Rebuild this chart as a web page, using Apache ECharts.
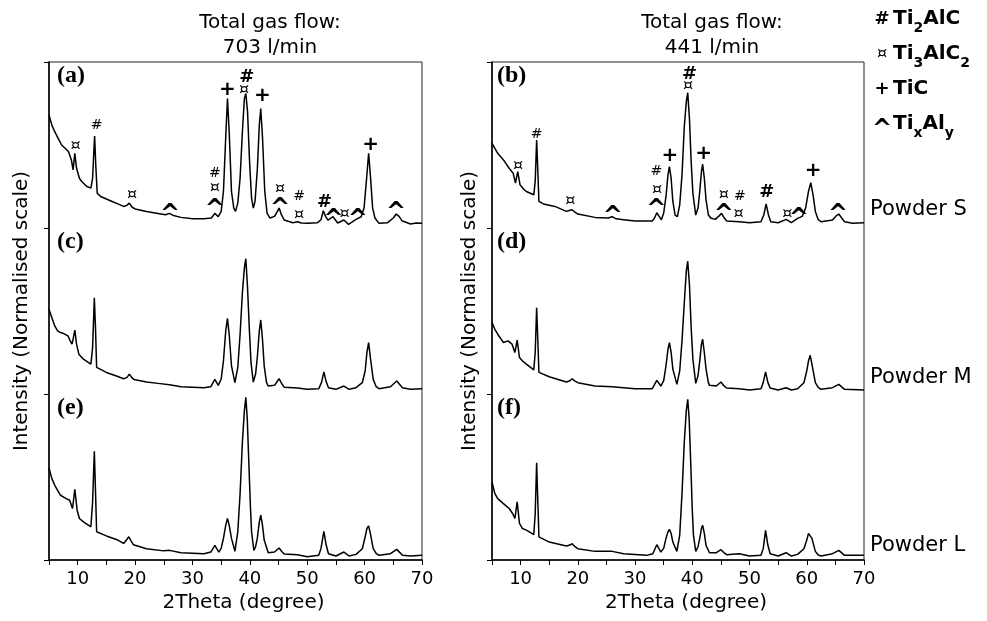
<!DOCTYPE html>
<html><head><meta charset="utf-8">
<script src="https://cdn.jsdelivr.net/npm/echarts@6/dist/echarts.min.js"></script>
<style>html,body{margin:0;padding:0;background:#fff}#c{width:987px;height:621px}</style>
</head><body><div id="c"></div>
<script>
// ---------- data ----------
const xTickLabels = [10, 20, 30, 40, 50, 60, 70];
const panelTitles = ['Total gas flow:\n703 l/min', 'Total gas flow:\n441 l/min'];
const panelLetters = [['(a)', '(c)', '(e)'], ['(b)', '(d)', '(f)']];
const powderNames = ['Powder S', 'Powder M', 'Powder L'];
const legendSymbols = ['#', '¤', '+', '^'];
const legendFormulas = [['Ti', '2', 'AlC'], ['Ti', '3', 'AlC', '2'], ['TiC'], ['Ti', 'x', 'Al', 'y']];
const xAxisTitle = '2Theta (degree)';
const yAxisTitle = 'Intensity (Normalised scale)';

// normalised intensity (0..1 within each stacked band) vs 2theta
const powderS_703 = [[5.0,0.68],[5.5,0.62],[6.0,0.58],[6.6,0.54],[7.2,0.50],[7.8,0.48],[8.4,0.46],[8.9,0.41],[9.2,0.35],[9.5,0.45],[9.8,0.36],[10.3,0.30],[10.7,0.28],[11.6,0.25],[12.3,0.24],[12.6,0.30],[12.8,0.45],[12.95,0.554],[13.15,0.38],[13.4,0.21],[14.0,0.19],[15.0,0.175],[16.0,0.16],[17.0,0.145],[18.0,0.13],[18.5,0.135],[19.0,0.15],[19.5,0.125],[20.0,0.115],[22.0,0.10],[24.0,0.088],[25.3,0.08],[26.0,0.088],[26.7,0.075],[28.0,0.064],[30.0,0.056],[32.0,0.056],[33.3,0.06],[33.9,0.088],[34.5,0.068],[35.0,0.10],[35.4,0.22],[35.8,0.55],[36.1,0.78],[36.4,0.58],[36.8,0.22],[37.2,0.12],[37.5,0.10],[37.9,0.15],[38.3,0.30],[38.7,0.58],[39.05,0.78],[39.3,0.81],[39.6,0.70],[39.95,0.40],[40.3,0.18],[40.6,0.12],[40.9,0.16],[41.3,0.35],[41.65,0.62],[41.9,0.72],[42.2,0.55],[42.6,0.22],[43.0,0.09],[43.5,0.06],[44.3,0.07],[44.8,0.10],[45.1,0.12],[45.5,0.08],[46.0,0.048],[47.5,0.032],[48.3,0.038],[49.0,0.03],[50.0,0.028],[51.8,0.032],[52.4,0.05],[52.8,0.104],[53.2,0.07],[53.6,0.048],[54.5,0.068],[55.3,0.03],[56.4,0.048],[57.2,0.022],[58.5,0.052],[59.4,0.068],[59.9,0.12],[60.3,0.28],[60.7,0.45],[61.0,0.32],[61.4,0.12],[61.8,0.06],[62.5,0.028],[64.0,0.032],[65.0,0.06],[65.5,0.084],[66.0,0.07],[66.5,0.044],[68.0,0.024],[69.0,0.03],[70.0,0.028]];
const powderM_703 = [[5.0,0.51],[5.4,0.47],[6.0,0.41],[6.5,0.38],[7.0,0.37],[7.5,0.365],[7.8,0.37],[8.3,0.35],[8.7,0.32],[9.0,0.30],[9.2,0.33],[9.5,0.385],[9.8,0.30],[10.2,0.24],[11.0,0.21],[12.3,0.18],[12.6,0.28],[12.9,0.58],[13.1,0.40],[13.3,0.16],[15.0,0.13],[17.0,0.105],[18.0,0.092],[18.6,0.10],[19.0,0.12],[19.4,0.10],[19.8,0.088],[22.0,0.072],[24.0,0.064],[26.0,0.056],[28.0,0.044],[32.0,0.038],[33.2,0.044],[33.9,0.088],[34.5,0.052],[35.0,0.09],[35.4,0.20],[35.8,0.38],[36.1,0.455],[36.4,0.36],[36.8,0.17],[37.4,0.068],[37.9,0.16],[38.3,0.36],[38.7,0.61],[39.05,0.76],[39.3,0.815],[39.6,0.64],[39.9,0.40],[40.2,0.19],[40.6,0.072],[41.0,0.12],[41.3,0.22],[41.65,0.38],[41.9,0.446],[42.2,0.33],[42.5,0.17],[42.9,0.07],[43.2,0.048],[44.3,0.052],[45.1,0.092],[45.6,0.06],[46.0,0.04],[48.3,0.036],[50.0,0.028],[52.0,0.032],[52.5,0.07],[52.9,0.133],[53.3,0.075],[53.7,0.038],[55.0,0.028],[56.4,0.048],[57.3,0.028],[58.5,0.038],[59.6,0.068],[60.1,0.14],[60.4,0.25],[60.7,0.31],[61.0,0.22],[61.5,0.088],[62.0,0.045],[62.5,0.032],[64.5,0.044],[65.6,0.078],[66.6,0.038],[68.0,0.028],[70.0,0.032]];
const powderL_703 = [[5.0,0.554],[5.5,0.49],[6.0,0.45],[7.0,0.39],[8.0,0.37],[8.6,0.36],[9.1,0.31],[9.5,0.426],[9.9,0.30],[10.3,0.25],[11.0,0.23],[12.3,0.20],[12.6,0.35],[12.9,0.655],[13.1,0.42],[13.3,0.17],[15.0,0.145],[17.0,0.12],[18.0,0.10],[18.5,0.12],[18.9,0.14],[19.3,0.115],[19.7,0.092],[22.0,0.068],[25.0,0.055],[26.0,0.058],[28.0,0.044],[32.0,0.038],[33.2,0.048],[33.9,0.088],[34.6,0.048],[35.0,0.07],[35.4,0.13],[35.8,0.21],[36.1,0.25],[36.4,0.21],[36.8,0.13],[37.4,0.052],[37.9,0.17],[38.3,0.40],[38.7,0.71],[39.05,0.90],[39.3,0.98],[39.55,0.85],[39.8,0.61],[40.1,0.32],[40.3,0.17],[40.7,0.058],[41.0,0.08],[41.3,0.13],[41.65,0.23],[41.9,0.27],[42.2,0.21],[42.5,0.12],[43.2,0.044],[44.3,0.048],[45.1,0.072],[45.6,0.05],[46.0,0.036],[48.3,0.032],[50.0,0.02],[52.0,0.028],[52.4,0.07],[52.9,0.173],[53.3,0.09],[53.7,0.038],[55.0,0.024],[56.4,0.048],[57.3,0.024],[58.5,0.034],[59.6,0.068],[60.1,0.14],[60.4,0.19],[60.7,0.205],[61.0,0.16],[61.5,0.068],[62.0,0.04],[62.5,0.028],[64.5,0.038],[65.6,0.064],[66.6,0.028],[68.0,0.024],[70.0,0.028]];
const powderS_441 = [[5.0,0.51],[5.5,0.48],[6.0,0.45],[7.0,0.41],[8.0,0.36],[8.7,0.33],[9.1,0.27],[9.5,0.34],[9.9,0.26],[10.5,0.235],[11.0,0.22],[12.3,0.20],[12.55,0.28],[12.8,0.53],[13.0,0.35],[13.2,0.16],[14.0,0.145],[16.0,0.13],[18.0,0.10],[18.5,0.105],[19.0,0.11],[19.5,0.095],[20.0,0.084],[23.0,0.064],[25.3,0.06],[26.0,0.068],[26.7,0.055],[28.0,0.05],[30.0,0.042],[33.0,0.042],[33.4,0.06],[33.8,0.092],[34.2,0.07],[34.6,0.05],[35.0,0.09],[35.4,0.19],[35.75,0.32],[36.0,0.37],[36.3,0.30],[36.6,0.16],[37.0,0.078],[37.4,0.068],[37.8,0.14],[38.2,0.32],[38.6,0.61],[38.95,0.76],[39.2,0.815],[39.5,0.66],[39.8,0.40],[40.1,0.21],[40.6,0.078],[41.0,0.12],[41.3,0.22],[41.6,0.34],[41.8,0.385],[42.1,0.30],[42.4,0.17],[42.8,0.08],[43.2,0.06],[44.0,0.052],[44.6,0.07],[45.1,0.088],[45.5,0.065],[46.0,0.042],[48.2,0.038],[50.0,0.032],[52.0,0.038],[52.5,0.08],[52.9,0.145],[53.3,0.08],[53.7,0.038],[55.0,0.032],[56.4,0.052],[57.3,0.032],[58.4,0.058],[59.2,0.07],[59.8,0.12],[60.3,0.22],[60.7,0.273],[61.1,0.20],[61.5,0.10],[62.0,0.05],[62.5,0.038],[64.5,0.048],[65.2,0.075],[65.6,0.084],[66.1,0.06],[66.6,0.038],[68.0,0.028],[70.0,0.032]];
const powderM_441 = [[5.0,0.43],[5.5,0.39],[6.0,0.36],[7.0,0.31],[7.8,0.32],[8.5,0.30],[9.0,0.25],[9.4,0.325],[9.8,0.22],[10.3,0.20],[11.0,0.18],[12.3,0.145],[12.55,0.25],[12.8,0.52],[13.0,0.33],[13.2,0.13],[15.0,0.104],[18.0,0.072],[18.6,0.08],[19.0,0.092],[19.5,0.078],[20.0,0.068],[23.0,0.048],[26.0,0.044],[30.0,0.032],[33.0,0.032],[33.8,0.082],[34.5,0.048],[35.0,0.08],[35.4,0.17],[35.75,0.27],[36.0,0.31],[36.3,0.25],[36.6,0.15],[37.3,0.058],[37.8,0.14],[38.2,0.32],[38.6,0.55],[38.95,0.74],[39.2,0.80],[39.5,0.66],[39.8,0.40],[40.1,0.21],[40.6,0.064],[41.0,0.11],[41.3,0.20],[41.6,0.30],[41.8,0.33],[42.1,0.25],[42.4,0.15],[42.8,0.07],[43.0,0.052],[44.2,0.048],[45.0,0.072],[45.5,0.05],[46.0,0.036],[48.2,0.032],[50.0,0.024],[52.0,0.032],[52.4,0.07],[52.8,0.133],[53.2,0.07],[53.6,0.036],[55.0,0.024],[56.4,0.038],[57.3,0.024],[58.4,0.032],[59.5,0.068],[60.0,0.14],[60.3,0.20],[60.6,0.233],[60.9,0.18],[61.5,0.068],[62.0,0.04],[62.5,0.028],[64.5,0.038],[65.6,0.058],[66.6,0.028],[70.0,0.024]];
const powderL_441 = [[5.0,0.47],[5.5,0.40],[6.0,0.37],[7.0,0.34],[8.0,0.31],[8.6,0.28],[9.0,0.25],[9.4,0.35],[9.8,0.22],[10.3,0.19],[11.0,0.18],[12.3,0.153],[12.55,0.28],[12.8,0.586],[13.0,0.36],[13.2,0.139],[15.0,0.108],[18.0,0.084],[18.6,0.09],[19.0,0.098],[19.5,0.08],[20.0,0.068],[23.0,0.052],[26.0,0.052],[28.0,0.038],[32.0,0.028],[33.1,0.038],[33.8,0.092],[34.5,0.048],[35.0,0.07],[35.4,0.13],[35.75,0.17],[36.0,0.185],[36.3,0.16],[36.6,0.108],[37.3,0.052],[37.8,0.15],[38.2,0.40],[38.6,0.71],[38.95,0.90],[39.2,0.968],[39.45,0.85],[39.7,0.61],[40.0,0.30],[40.2,0.15],[40.6,0.052],[41.0,0.08],[41.3,0.13],[41.6,0.19],[41.8,0.21],[42.1,0.16],[42.4,0.088],[43.0,0.044],[44.2,0.044],[45.0,0.062],[45.5,0.045],[46.0,0.032],[48.2,0.038],[50.0,0.024],[52.0,0.028],[52.4,0.07],[52.8,0.179],[53.2,0.09],[53.6,0.038],[55.0,0.024],[56.4,0.044],[57.3,0.024],[58.4,0.034],[59.5,0.068],[60.0,0.12],[60.3,0.16],[60.6,0.169],[60.9,0.13],[61.5,0.052],[62.0,0.03],[62.5,0.024],[64.5,0.038],[65.6,0.058],[66.6,0.028],[70.0,0.028]];

// phase markers over powder S patterns: [2theta, band level, phase symbol]
const phaseMarks_703 = [[9.65,0.494,'¤'],[13.3,0.62,'#'],[19.5,0.2,'¤'],[26.1,0.118,'^'],[33.9,0.33,'#'],[33.9,0.24,'¤'],[33.9,0.145,'^'],[36.1,0.835,'+'],[39.0,0.835,'¤'],[39.45,0.91,'#'],[42.2,0.795,'+'],[45.25,0.233,'¤'],[45.25,0.153,'^'],[48.6,0.193,'#'],[48.6,0.078,'¤'],[53.0,0.153,'#'],[54.6,0.084,'^'],[56.5,0.088,'¤'],[58.8,0.088,'^'],[61.05,0.504,'+'],[65.5,0.128,'^']];
const phaseMarks_441 = [[9.55,0.373,'¤'],[12.8,0.566,'#'],[18.7,0.165,'¤'],[26.1,0.104,'^'],[33.7,0.34,'#'],[33.85,0.23,'¤'],[33.7,0.145,'^'],[36.1,0.434,'+'],[39.25,0.855,'¤'],[39.5,0.928,'#'],[42.0,0.446,'+'],[45.5,0.2,'¤'],[45.5,0.116,'^'],[48.3,0.193,'#'],[48.1,0.084,'¤'],[53.0,0.213,'#'],[56.6,0.088,'¤'],[58.6,0.092,'^'],[61.1,0.345,'+'],[65.45,0.118,'^']];

// ---------- chart ----------
const FONT = 'DejaVu Sans';
const panels = [
  {curves: [powderS_703, powderM_703, powderL_703], marks: phaseMarks_703},
  {curves: [powderS_441, powderM_441, powderL_441], marks: phaseMarks_441}
];
const gridBoxes = [{left: 49, top: 62, width: 373, height: 498}, {left: 492, top: 62, width: 372, height: 498}];
const yNameGaps = [17, 12];
const titleCenters = [265, 707];

function markLabel(sym, x) {
  const base = {formatter: sym, color: '#000', fontFamily: FONT, opacity: 1};
  if (sym === '#') {
    const strong = Math.abs(x - 39.4) < 1 || Math.abs(x - 53) < 1;
    return Object.assign(base, strong ? {fontSize: 18, fontWeight: 'bold'} : {fontSize: 14, fontWeight: 'normal'});
  }
  if (sym === '+') return Object.assign(base, {fontSize: 20, fontWeight: 'bold'});
  if (sym === '^') return Object.assign(base, {fontSize: 24, fontWeight: 'bold', offset: [0, 6]});
  return Object.assign(base, {fontSize: 16, fontWeight: 'normal'});
}

const grid = [], xAxis = [], yAxis = [], series = [], title = [];
panels.forEach((p, i) => {
  grid.push(Object.assign({show: true, borderColor: '#222', borderWidth: 1, backgroundColor: 'transparent'}, gridBoxes[i]));
  xAxis.push({
    gridIndex: i, type: 'value', min: 5, max: 70, interval: 5,
    axisLine: {show: true, onZero: false, lineStyle: {color: '#000', width: 1.5}},
    axisTick: {show: true, length: 5, lineStyle: {color: '#000', width: 1}},
    axisLabel: {formatter: v => xTickLabels.includes(v) ? String(v) : '', fontFamily: FONT, fontSize: 18, color: '#000', margin: 10},
    splitLine: {show: false},
    name: xAxisTitle, nameLocation: 'middle', nameGap: 26,
    nameTextStyle: {fontFamily: FONT, fontSize: 20, color: '#000', padding: [0, 0, 0, 16]}
  });
  yAxis.push({
    gridIndex: i, type: 'value', min: 0, max: 3, interval: 1,
    axisLine: {show: true, onZero: false, lineStyle: {color: '#000', width: 1.5}},
    axisTick: {show: true, length: 5, lineStyle: {color: '#000', width: 1}},
    axisLabel: {show: false}, splitLine: {show: false},
    name: yAxisTitle, nameLocation: 'middle', nameGap: yNameGaps[i],
    nameTextStyle: {fontFamily: FONT, fontSize: 20, color: '#000'}
  });
  p.curves.forEach((c, k) => {
    const offset = 2 - k;
    series.push({
      type: 'line', xAxisIndex: i, yAxisIndex: i, symbol: 'none', silent: true,
      data: c.map(([x, v]) => [x, v + offset]),
      lineStyle: {color: '#000', width: 1.5}, z: 3
    });
  });
  series.push({
    type: 'scatter', xAxisIndex: i, yAxisIndex: i, symbolSize: 1, silent: true,
    itemStyle: {color: 'rgba(0,0,0,0)', opacity: 1},
    label: {show: true, position: 'inside'},
    data: p.marks.map(([x, v, s]) => ({value: [x, v + 2], label: markLabel(s, x)})),
    z: 4
  });
  title.push({
    text: panelTitles[i], left: titleCenters[i], top: 5, textAlign: 'center',
    textStyle: {fontFamily: FONT, fontSize: 20, fontWeight: 'normal', color: '#000', lineHeight: 25}
  });
});

const graphic = [];
const letterX = [57, 497];
const bandCenters = [78, 244, 410];
panelLetters.forEach((letters, i) => letters.forEach((t, k) => graphic.push({
  type: 'text', left: letterX[i], top: bandCenters[k] - 14,
  style: {text: t, font: 'bold 24px "Liberation Serif", "Times New Roman", serif', fill: '#000'}
})));
const powderY = [210, 378, 546];
powderNames.forEach((t, k) => graphic.push({
  type: 'text', x: 870, y: powderY[k],
  style: {text: t, fontFamily: FONT, fontSize: 21, fill: '#000', verticalAlign: 'middle', align: 'left'}
}));
const legendY = [19, 54, 89, 124];
legendSymbols.forEach((s, k) => {
  const symStyle = s === '¤' ? {fontSize: 16, fontWeight: 'normal', dy: 0}
    : s === '^' ? {fontSize: 24, fontWeight: 'bold', dy: 6}
    : {fontSize: 18, fontWeight: 'bold', dy: 0};
  graphic.push({
    type: 'text', x: 882, y: legendY[k] + symStyle.dy,
    style: {text: s, fontFamily: FONT, fontSize: symStyle.fontSize, fontWeight: symStyle.fontWeight, fill: '#000', align: 'center', verticalAlign: 'middle'}
  });
  const parts = legendFormulas[k].map((txt, j) => (j % 2 === 0 ? '{m|' : '{s|') + txt + '}').join('');
  graphic.push({
    type: 'text', x: 893, y: legendY[k],
    style: {
      text: parts, fill: '#000', align: 'left', verticalAlign: 'middle',
      rich: {
        m: {fontFamily: FONT, fontSize: 20, fontWeight: 'bold', fill: '#000', lineHeight: 26},
        s: {fontFamily: FONT, fontSize: 14, fontWeight: 'bold', fill: '#000', padding: [18, 0, 0, 0]}
      }
    }
  });
});

const chart = echarts.init(document.getElementById('c'));
chart.setOption({
  animation: false,
  backgroundColor: '#fff',
  title, grid, xAxis, yAxis, series, graphic
});
</script>
</body></html>
